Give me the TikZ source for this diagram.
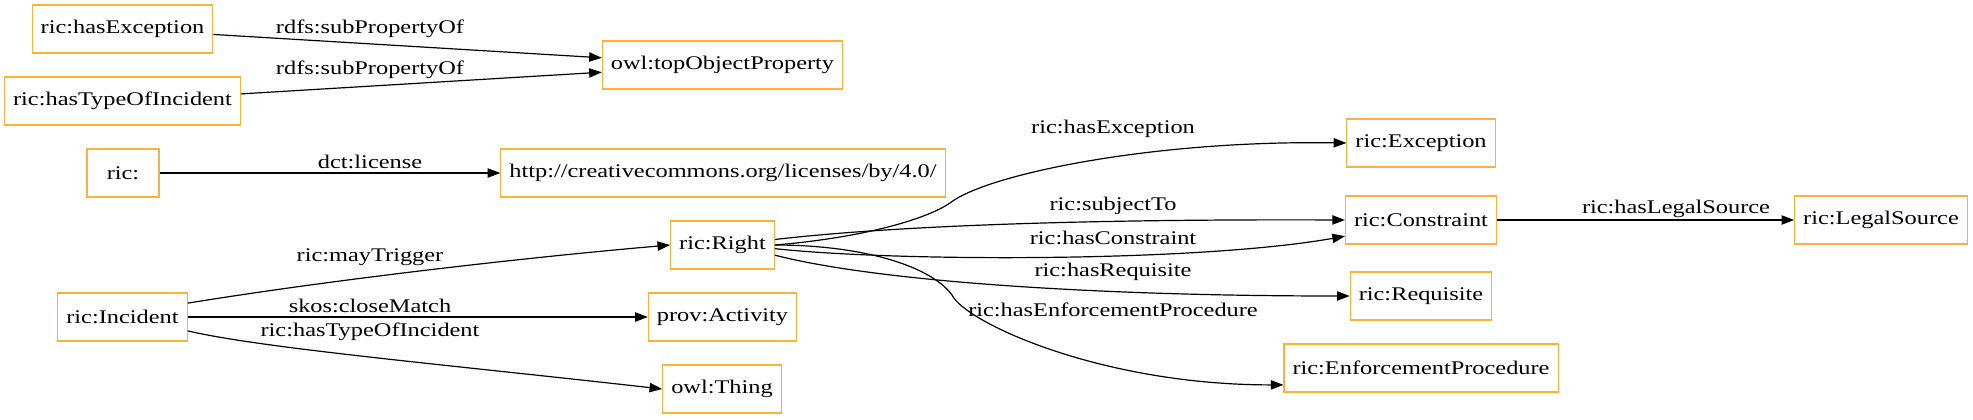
\documentclass[tikz,border=0pt]{standalone}
\usepackage{fontspec}
\setmainfont{Liberation Serif}[FakeStretch=1.26]
\usetikzlibrary{arrows.meta}
\definecolor{boxorange}{HTML}{FDB13C}
\begin{document}
\begin{tikzpicture}[x=0.75pt,y=-0.75pt,
  box/.style={draw=boxorange,line width=0.8pt,minimum height=36pt,minimum width=54pt,inner xsep=6.4pt,font=\fontsize{14.5}{16}\selectfont},
  lbl/.style={inner sep=0pt,font=\fontsize{14.5}{16}\selectfont},
  rel/.style={-{Triangle[length=9.5pt,width=7pt]},line width=0.9pt}]
  \useasboundingbox (0,0) rectangle (1973,419);
  % left column
  \node[box] (hasexc) at (122.5,29) {ric:hasException};
  \node[box] (hastype) at (122.5,101) {ric:hasTypeOfIncident};
  \node[box] (ric) at (123,173) {ric:};
  \node[box] (incident) at (122.5,317) {ric:Incident};
  % middle column
  \node[box] (topobj) at (722.5,65) {owl:topObjectProperty};
  \node[box] (license) at (723,173) {http://creativecommons.org/licenses/by/4.0/};
  \node[box] (right) at (722.5,245) {ric:Right};
  \node[box] (activity) at (722.5,317) {prov:Activity};
  \node[box] (thing) at (722,389) {owl:Thing};
  % right columns
  \node[box] (exception) at (1421,143) {ric:Exception};
  \node[box] (constraint) at (1421,220) {ric:Constraint};
  \node[box] (requisite) at (1421,296) {ric:Requisite};
  \node[box] (enforcement) at (1421,368) {ric:EnforcementProcedure};
  \node[box] (legal) at (1881,220) {ric:LegalSource};
  % edge labels
  \node[lbl] (l-sub1) at (370,29) {rdfs:subPropertyOf};
  \node[lbl] (l-sub2) at (370,70) {rdfs:subPropertyOf};
  \node[lbl] (l-lic) at (370,162) {dct:license};
  \node[lbl] (l-may) at (370,257) {ric:mayTrigger};
  \node[lbl] (l-close) at (370,306) {skos:closeMatch};
  \node[lbl] (l-type) at (370,332) {ric:hasTypeOfIncident};
  \node[lbl] (l-exc) at (1113,129) {ric:hasException};
  \node[lbl] (l-subj) at (1113,206) {ric:subjectTo};
  \node[lbl] (l-con) at (1113,238) {ric:hasConstraint};
  \node[lbl] (l-req) at (1113,272) {ric:hasRequisite};
  \node[lbl] (l-enf) at (1113,310) {ric:hasEnforcementProcedure};
  \node[lbl] (l-leg) at (1676,209) {ric:hasLegalSource};
  % edges
  \draw[rel] (hasexc) -- (topobj);
  \draw[rel] (hastype) -- (topobj);
  \draw[rel] (ric) -- (license);
  \draw[rel] (incident.12) .. controls (330,280) and (520,258) .. (right.west);
  \draw[rel] (incident) -- (activity);
  \draw[rel] (incident.-12) .. controls (260,348) and (450,365) .. (thing.west);
  \draw[rel] (right.east) .. controls (860,238) and (925,220) .. (950,203)
    .. controls (985,175) and (1150,140) .. (exception.west);
  \draw[rel] (right.6) .. controls (900,225) and (1100,219) .. (constraint.west);
  \draw[rel] (right.-4) .. controls (900,262) and (1200,262) .. (constraint.-168);
  \draw[rel] (right.-11) .. controls (880,282) and (1100,296) .. (requisite.west);
  \draw[rel] (right.east) .. controls (860,245) and (930,265) .. (952,295)
    .. controls (965,322) and (1100,385) .. (enforcement.-173);
  \draw[rel] (constraint) -- (legal);
\end{tikzpicture}
\end{document}
